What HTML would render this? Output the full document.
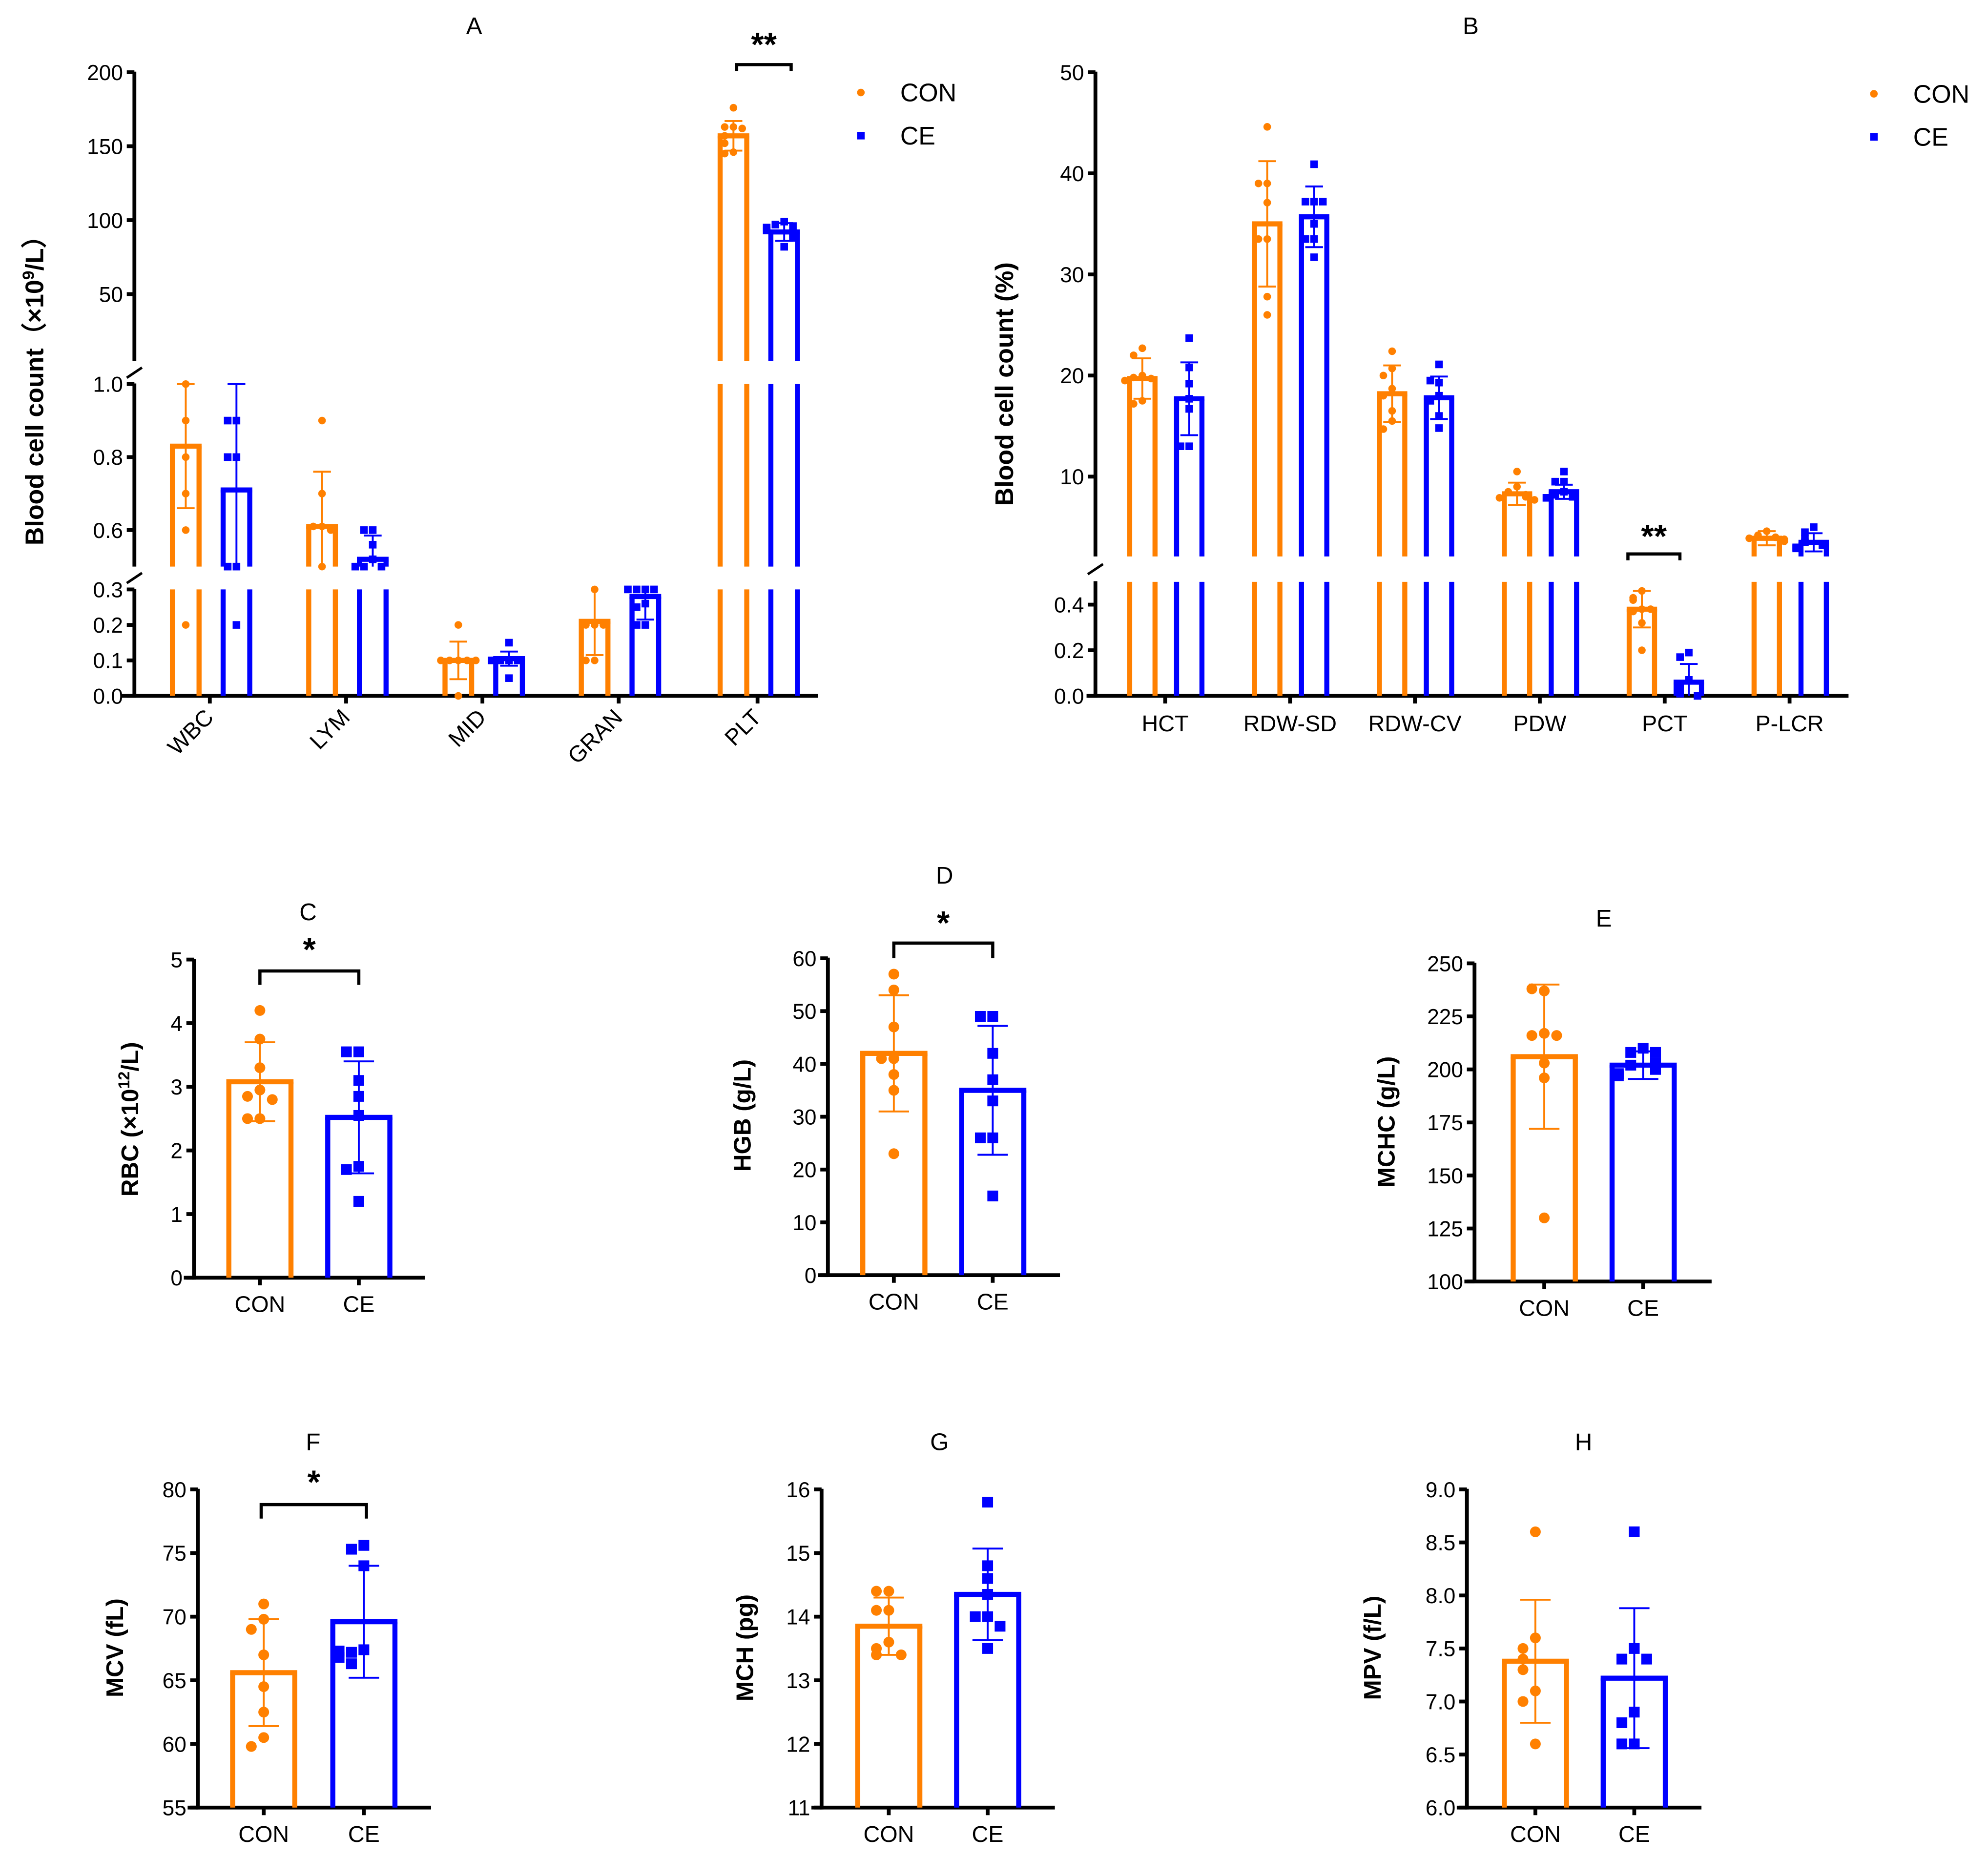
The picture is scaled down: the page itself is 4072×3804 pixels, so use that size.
<!DOCTYPE html>
<html><head><meta charset="utf-8"><style>
html,body{margin:0;padding:0;background:#fff;}
svg{display:block;}
text{font-family:"Liberation Sans",Arial,sans-serif;fill:#000;}
</style></head><body>
<svg id="fig" xmlns="http://www.w3.org/2000/svg" width="4072" height="3804" viewBox="0 0 1568 1465" preserveAspectRatio="none"></svg>
<script>
// ---------- Panel A data ----------
const A_categories = ["WBC","LYM","MID","GRAN","PLT"];
const A_con_mean = [0.83, 0.61, 0.10, 0.21, 157];
const A_con_sd   = [0.17, 0.15, 0.053, 0.095, 10];
const A_ce_mean  = [0.71, 0.52, 0.105, 0.28, 92];
const A_ce_sd    = [0.29, 0.065, 0.02, 0.065, 6];
const A_con_pts = [[1.0,0.9,0.8,0.7,0.6,0.2],[0.9,0.7,0.61,0.61,0.6,0.5],[0.2,0.1,0.1,0.1,0.1,0.1,0.0],[0.3,0.2,0.2,0.2,0.1,0.1],[176,163,163,162,157,152,146,145]];
const A_ce_pts  = [[0.9,0.9,0.8,0.8,0.5,0.5,0.2],[0.6,0.6,0.56,0.52,0.5,0.5,0.5],[0.15,0.1,0.1,0.1,0.1,0.05],[0.3,0.3,0.3,0.3,0.26,0.25,0.2,0.2],[99,97,96,95,93,90,88,82]];
// ---------- Panel B data ----------
const B_categories = ["HCT","RDW-SD","RDW-CV","PDW","PCT","P-LCR"];
const B_con_mean = [19.7, 35, 18.2, 8.3, 0.38, 3.9];
const B_con_sd   = [2.0, 6.2, 2.8, 1.1, 0.08, 0.7];
const B_ce_mean  = [17.7, 35.7, 17.8, 8.5, 0.06, 3.5];
const B_ce_sd    = [3.6, 3.0, 2.1, 0.7, 0.08, 0.9];
const B_con_pts = [[22.7,22,20,19.8,19.7,19.5,17.5,17.2],[44.6,39,39,37.1,33.5,33.5,27.8,26],[22.4,20.7,20,18.7,18,16.5,15.5,14.7],[10.5,9,8.5,8.2,8,7.9,7.7],[0.46,0.43,0.42,0.38,0.37,0.38,0.32,0.2],[4.6,4.2,4.0,3.9,3.8,3.6]];
const B_ce_pts  = [[23.7,20.8,19.2,17.7,16.7,13,13],[40.9,37.2,37.2,37.2,35,33.5,33.5,31.7],[21.1,19.3,19.5,18,17.5,16,14.8],[10.5,9.5,9.5,8.5,8.2,8,7.9],[0.19,0.17,0.07,0.05,0.03,0.01,0.0],[5,4.5,3.8,3.5,3.2,3,2.9]];
// ---------- Small panels data (CON, CE) ----------
const C_mean = [3.08, 2.52];  const C_sd = [0.62, 0.88];
const C_con_pts = [4.2,3.75,3.3,2.95,2.85,2.8,2.5,2.5];
const C_ce_pts  = [3.55,3.55,3.1,2.85,2.55,1.75,1.7,1.2];
const D_mean = [42, 35];  const D_sd = [11, 12.2];
const D_con_pts = [57,54,47,41,41,38,35,23];
const D_ce_pts  = [49,49,42,37,33,26,26,15];
const E_mean = [206, 202];  const E_sd = [34, 6.5];
const E_con_pts = [237,238,217,216,216,203,196,130];
const E_ce_pts  = [210,208,208,203,202,200,198,197];
const F_mean = [65.6, 69.6];  const F_sd = [4.2, 4.4];
const F_con_pts = [71,69.8,69,67,64.5,62.5,60.5,59.8];
const F_ce_pts  = [75.6,75.3,74,67.4,67.2,66.3,66.8,67.3];
const G_mean = [13.85, 14.35];  const G_sd = [0.45, 0.72];
const G_con_pts = [14.4,14.4,14.1,14.1,13.6,13.5,13.4,13.4];
const G_ce_pts  = [15.8,14.8,14.6,14.35,14.0,14.0,13.85,13.5];
const H_mean = [7.38, 7.22];  const H_sd = [0.58, 0.66];
const H_con_pts = [8.6,7.6,7.5,7.4,7.3,7.1,7.0,6.6];
const H_ce_pts  = [8.6,7.5,7.4,7.4,6.9,6.8,6.6,6.6];

const ORANGE = "#FF8000", BLUE = "#0000FF";
const NS = "http://www.w3.org/2000/svg";
const svg = document.getElementById("fig");
function mk(tag, attrs, parent, txt){
  const e = document.createElementNS(NS, tag);
  for (const k in attrs) e.setAttribute(k, attrs[k]);
  if (txt !== undefined) e.textContent = txt;
  (parent || svg).appendChild(e);
  return e;
}
function line(g,x1,y1,x2,y2,c,w){ return mk("line",{x1,y1,x2,y2,stroke:c,"stroke-width":w},g); }

function drawPanel(cfg){
  const g = mk("g",{});
  
  
  const segs = cfg.segs;
  function mapV(v){
    for (const s of segs){ if (v >= s.lo - 1e-9 && v <= s.hi + 1e-9) return s.ylo + (v - s.lo) * (s.yhi - s.ylo) / (s.hi - s.lo); }
    return null;
  }
  function segY(s,v){ return s.ylo + (v - s.lo) * (s.yhi - s.ylo) / (s.hi - s.lo); }
  const ax = mk("g",{},g);
  
  
  segs.forEach((s,si)=>{ line(ax,cfg.axisX,s.ylo+(si===0?cfg.axW/2:0),cfg.axisX,s.yhi-0.5,"#000",cfg.axW); });
  (cfg.breaks||[]).forEach(by=>{
    line(ax,cfg.axisX-6,by+4,cfg.axisX+6,by-4,"#000",2);
  });
  cfg.ticks.forEach((t,i)=>{
    const y = mapV(t);
    line(ax,cfg.axisX-cfg.tickLen,y,cfg.axisX,y,"#000",cfg.axW);
    const lb = mk("text",{x:cfg.axisX-cfg.tickLen-3,y:y+cfg.fs*0.36,"font-size":cfg.fs,"text-anchor":"end"},ax,cfg.tickLabels[i]);
    
    
  });
  const xax = mk("g",{},g);
  
  
  const groups = [{mean:cfg.conMean,sd:cfg.conSd,pts:cfg.conPts,c:ORANGE,off:cfg.conOff,shape:"circle"},
                  {mean:cfg.ceMean,sd:cfg.ceSd,pts:cfg.cePts,c:BLUE,off:cfg.ceOff,shape:"square"}];
  cfg.centers.forEach((cx,ci)=>{
    groups.forEach((gr,gi)=>{
      const bx = cx + gr.off, hw = cfg.barW/2, v = gr.mean[ci], sw = cfg.barSW;
      const bg = mk("g",{},g);
      
      
      segs.forEach(s=>{
        if (v > s.lo){
          const top = Math.min(v, s.hi), yt = segY(s, top);
          line(bg,bx-hw,s.ylo,bx-hw,yt,gr.c,sw);
          line(bg,bx+hw,s.ylo,bx+hw,yt,gr.c,sw);
          if (v <= s.hi) line(bg,bx-hw-sw/2,yt,bx+hw+sw/2,yt,gr.c,sw);
        }
      });
      const lo = v - gr.sd[ci], hi = v + gr.sd[ci];
      const eg = mk("g",{},g);
      
      
      segs.forEach(s=>{
        const a = Math.max(lo, s.lo), b = Math.min(hi, s.hi);
        if (b > a) line(eg,bx,segY(s,a),bx,segY(s,b),gr.c,cfg.errW);
      });
      [lo,hi].forEach(e=>{ const y = mapV(e); if (y!==null) line(eg,bx-cfg.capW/2,y,bx+cfg.capW/2,y,gr.c,cfg.errW); });
      const placed = [];
      gr.pts[ci].forEach(p=>{
        const y = mapV(p); if (y===null) return;
        let k = 0; placed.forEach(q=>{ if (Math.abs(q-y) < cfg.ms*1.1) k++; });
        placed.push(y);
        k = k % 5;
        const dx = (k===0?0:(k%2===1?-1:1)*Math.ceil(k/2)) * cfg.ms*1.15;
        let m;
        if (gr.shape==="circle") m = mk("circle",{cx:bx+dx,cy:y,r:cfg.ms/2,fill:gr.c},g);
        else m = mk("rect",{x:bx+dx-cfg.ms/2,y:y-cfg.ms/2,width:cfg.ms,height:cfg.ms,fill:gr.c},g);
        
        
      });
    });
  });
  cfg.xTickPos.forEach((tx,ti)=>{
    line(xax,tx,cfg.axisY,tx,cfg.axisY+cfg.tickLen,"#000",cfg.axW);
    let lb;
    if (cfg.rotLabels) lb = mk("text",{x:tx+4,y:cfg.axisY+18,"font-size":cfg.xfs,"text-anchor":"end",transform:`rotate(-45 ${tx+4} ${cfg.axisY+18})`},xax,cfg.xTickNames[ti]);
    else lb = mk("text",{x:tx,y:cfg.axisY+cfg.xLabDy,"font-size":cfg.xfs,"text-anchor":"middle"},xax,cfg.xTickNames[ti]);
    
    
  });
  line(xax,cfg.xStart,cfg.axisY,cfg.xEnd,cfg.axisY,"#000",cfg.axW);
  const t = mk("text",{x:cfg.titleX,y:cfg.titleY,"font-size":19,"text-anchor":"middle"},g,cfg.title);
  
  
  const yl = mk("text",{x:0,y:0,"font-size":cfg.ylfs,"font-weight":"bold","text-anchor":"middle",transform:`translate(${cfg.ylX},${cfg.ylY}) rotate(-90)`},g);
  
  
  cfg.ylParts.forEach(p=>{ mk("tspan", p.sup?{"baseline-shift":"super","font-size":cfg.ylfs*0.65}:{}, yl, p.t); });
  return g;
}
function bracket(x1,x2,y,drop,starsY,stars){
  const g = mk("g",{});
  
  
  mk("polyline",{points:`${x1},${y+drop} ${x1},${y} ${x2},${y} ${x2},${y+drop}`,fill:"none",stroke:"#000","stroke-width":2.5},g);
  mk("text",{x:(x1+x2)/2,y:starsY,"font-size":26,"font-weight":"bold","text-anchor":"middle"},g,stars);
}
function legend(x,y1,y2,tx){
  const g = mk("g",{});
  
  
  const e1 = mk("g",{},g);  
  mk("circle",{cx:x,cy:y1,r:3,fill:ORANGE},e1);
  mk("text",{x:tx,y:y1+7,"font-size":20},e1,"CON");
  const e2 = mk("g",{},g);  
  mk("rect",{x:x-3,y:y2-3,width:6,height:6,fill:BLUE},e2);
  mk("text",{x:tx,y:y2+7,"font-size":20},e2,"CE");
}

const A_centers = [165.5,273,380.5,488,597.5];
drawPanel({name:"panel-a",title:"A",titleX:374,titleY:27,axisX:106,axisY:549,xStart:96,xEnd:645,axW:3,tickLen:6,fs:17,xfs:18,
  segs:[{lo:0,hi:0.3,ylo:549,yhi:465},{lo:0.5,hi:1.0,ylo:447,yhi:303},{lo:4.6,hi:200,ylo:285,yhi:57}],
  breaks:[294,456],
  ticks:[0,0.1,0.2,0.3,0.6,0.8,1.0,50,100,150,200],tickLabels:["0.0","0.1","0.2","0.3","0.6","0.8","1.0","50","100","150","200"],
  centers:A_centers,barNames:A_categories,xTickPos:A_centers,xTickNames:A_categories,rotLabels:true,
  conMean:A_con_mean,conSd:A_con_sd,ceMean:A_ce_mean,ceSd:A_ce_sd,conPts:A_con_pts,cePts:A_ce_pts,
  conOff:-19,ceOff:21,barW:21,barSW:4,errW:1.5,capW:14,ms:6,
  ylX:34,ylY:303,ylfs:20,ylParts:[{t:"Blood cell count（×10"},{t:"9",sup:true},{t:"/L）"}]});
bracket(581,624,51,5,44,"**");
legend(679,73,107,710);

const B_centers = [919,1017.5,1116,1214.5,1313,1411.5];
drawPanel({name:"panel-b",title:"B",titleX:1160,titleY:27,axisX:864,axisY:549,xStart:857,xEnd:1458,axW:3,tickLen:6,fs:17,xfs:18,xLabDy:28,
  segs:[{lo:0,hi:0.5,ylo:549,yhi:459},{lo:2.1,hi:50,ylo:439,yhi:57}],
  breaks:[449],
  ticks:[0,0.2,0.4,10,20,30,40,50],tickLabels:["0.0","0.2","0.4","10","20","30","40","50"],
  centers:B_centers,barNames:B_categories,xTickPos:B_centers,xTickNames:B_categories,rotLabels:false,
  conMean:B_con_mean,conSd:B_con_sd,ceMean:B_ce_mean,ceSd:B_ce_sd,conPts:B_con_pts,cePts:B_ce_pts,
  conOff:-18,ceOff:19,barW:20,barSW:4,errW:1.5,capW:14,ms:6,
  ylX:799,ylY:303,ylfs:20,ylParts:[{t:"Blood cell count (%)"}]});
bracket(1284,1325,437,5,432,"**");
legend(1478,74,108,1509);

function small(o){
  drawPanel({name:o.name,title:o.title,titleX:o.titleX,titleY:o.titleY,axisX:o.ax,axisY:o.y0,xStart:o.ax-8,xEnd:o.xEnd,axW:3,tickLen:6,fs:17,xfs:18,xLabDy:27,
    segs:[{lo:o.lo,hi:o.hi,ylo:o.y0,yhi:o.y1}],breaks:[],
    ticks:o.ticks,tickLabels:o.tl,centers:[o.c1],barNames:["group"],xTickPos:[o.c1,o.c2],xTickNames:["CON","CE"],rotLabels:false,
    conMean:[o.mean[0]],conSd:[o.sd[0]],ceMean:[o.mean[1]],ceSd:[o.sd[1]],conPts:[o.cp],cePts:[o.ep],
    conOff:0,ceOff:o.c2-o.c1,barW:49,barSW:4,errW:1.5,capW:24,ms:8.5,
    ylX:o.ylX,ylY:o.ylY,ylfs:19,ylParts:o.yl});
}
small({name:"panel-c",title:"C",titleX:243,titleY:726,ax:153,y0:1008,y1:757,lo:0,hi:5,xEnd:335,c1:205,c2:283,
  ticks:[0,1,2,3,4,5],tl:["0","1","2","3","4","5"],mean:C_mean,sd:C_sd,cp:C_con_pts,ep:C_ce_pts,
  ylX:109,ylY:883,yl:[{t:"RBC (×10"},{t:"12",sup:true},{t:"/L)"}]});
bracket(205,283,766,11,758,"*");
small({name:"panel-d",title:"D",titleX:745,titleY:697,ax:653,y0:1006,y1:756,lo:0,hi:60,xEnd:836,c1:705,c2:783,
  ticks:[0,10,20,30,40,50,60],tl:["0","10","20","30","40","50","60"],mean:D_mean,sd:D_sd,cp:D_con_pts,ep:D_ce_pts,
  ylX:592,ylY:880,yl:[{t:"HGB (g/L)"}]});
bracket(705,783,744,12,737,"*");
small({name:"panel-e",title:"E",titleX:1265,titleY:731,ax:1163,y0:1011,y1:760,lo:100,hi:250,xEnd:1350,c1:1218,c2:1296,
  ticks:[100,125,150,175,200,225,250],tl:["100","125","150","175","200","225","250"],mean:E_mean,sd:E_sd,cp:E_con_pts,ep:E_ce_pts,
  ylX:1100,ylY:885,yl:[{t:"MCHC (g/L)"}]});
small({name:"panel-f",title:"F",titleX:247,titleY:1144,ax:156,y0:1426,y1:1175,lo:55,hi:80,xEnd:340,c1:208,c2:287,
  ticks:[55,60,65,70,75,80],tl:["55","60","65","70","75","80"],mean:F_mean,sd:F_sd,cp:F_con_pts,ep:F_ce_pts,
  ylX:97,ylY:1300,yl:[{t:"MCV (fL)"}]});
bracket(206,289,1187,11,1178,"*");
small({name:"panel-g",title:"G",titleX:741,titleY:1144,ax:648,y0:1426,y1:1175,lo:11,hi:16,xEnd:832,c1:701,c2:779,
  ticks:[11,12,13,14,15,16],tl:["11","12","13","14","15","16"],mean:G_mean,sd:G_sd,cp:G_con_pts,ep:G_ce_pts,
  ylX:594,ylY:1300,yl:[{t:"MCH (pg)"}]});
small({name:"panel-h",title:"H",titleX:1249,titleY:1144,ax:1157,y0:1426,y1:1175,lo:6,hi:9,xEnd:1342,c1:1211,c2:1289,
  ticks:[6,6.5,7,7.5,8,8.5,9],tl:["6.0","6.5","7.0","7.5","8.0","8.5","9.0"],mean:H_mean,sd:H_sd,cp:H_con_pts,ep:H_ce_pts,
  ylX:1089,ylY:1300,yl:[{t:"MPV (f/L)"}]});
</script>
</body></html>
